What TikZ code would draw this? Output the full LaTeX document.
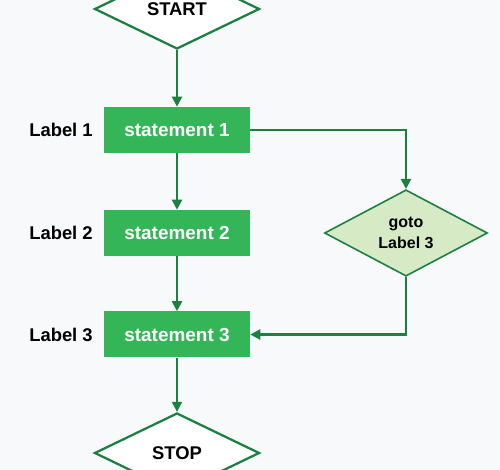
\documentclass[tikz,border=0pt]{standalone}
\usepackage{fontspec}
\setmainfont{Liberation Sans}
\usetikzlibrary{shapes.geometric,arrows.meta}
\definecolor{lineg}{HTML}{1C8043}
\definecolor{boxg}{HTML}{34B558}
\definecolor{lightg}{HTML}{D6EAC6}
\definecolor{bgc}{HTML}{F8F9FB}
\tikzset{
  conn/.style={draw=lineg, line width=1.6pt, -{Triangle[length=7.5pt,width=7.5pt]}},
  stmt/.style={rectangle, fill=boxg, text=white, minimum width=146*0.75pt, minimum height=46*0.75pt, inner sep=0pt, font=\fontsize{14.2}{16}\selectfont\bfseries},
  term/.style={diamond, draw=lineg, line width=1.7pt, fill=white, minimum width=165*0.75pt, minimum height=80*0.75pt, inner sep=0pt, font=\fontsize{13.8}{16}\selectfont\bfseries},
  dec/.style={diamond, draw=lineg, line width=1.2pt, fill=lightg, minimum width=163*0.75pt, minimum height=80*0.75pt, inner sep=0pt, align=center, font=\fontsize{12}{15.5}\selectfont\bfseries},
  lbl/.style={font=\fontsize{13.8}{16}\selectfont\bfseries, text=black}
}
\begin{document}
\begin{tikzpicture}[x=0.75pt,y=-0.75pt]
\useasboundingbox (0,0) rectangle (500,470);
\fill[bgc] (0,0) rectangle (500,470);
\begin{scope}
\clip (0,0) rectangle (500,470);
\node[term] (start) at (177,9) {START};
\node[stmt] (s1) at (177,130) {statement 1};
\node[stmt] (s2) at (177,233) {statement 2};
\node[stmt] (s3) at (177,334.5) {statement 3};
\node[term] (stop) at (177,453) {STOP};
\node[dec] (g) at (406,233) {goto\\Label 3};
\node[lbl] (l1) at (61,130) {Label 1};
\node[lbl] (l2) at (61,233) {Label 2};
\node[lbl] (l3) at (61,335) {Label 3};
\draw[conn] (start.south) -- (s1.north);
\draw[conn] (s1.south) -- (s2.north);
\draw[conn] (s2.south) -- (s3.north);
\draw[conn] (s3.south) -- (stop.north);
\draw[conn] (s1.east) -| (g.north);
\draw[conn] (g.south) |- (s3.east);
\end{scope}
\end{tikzpicture}
\end{document}
